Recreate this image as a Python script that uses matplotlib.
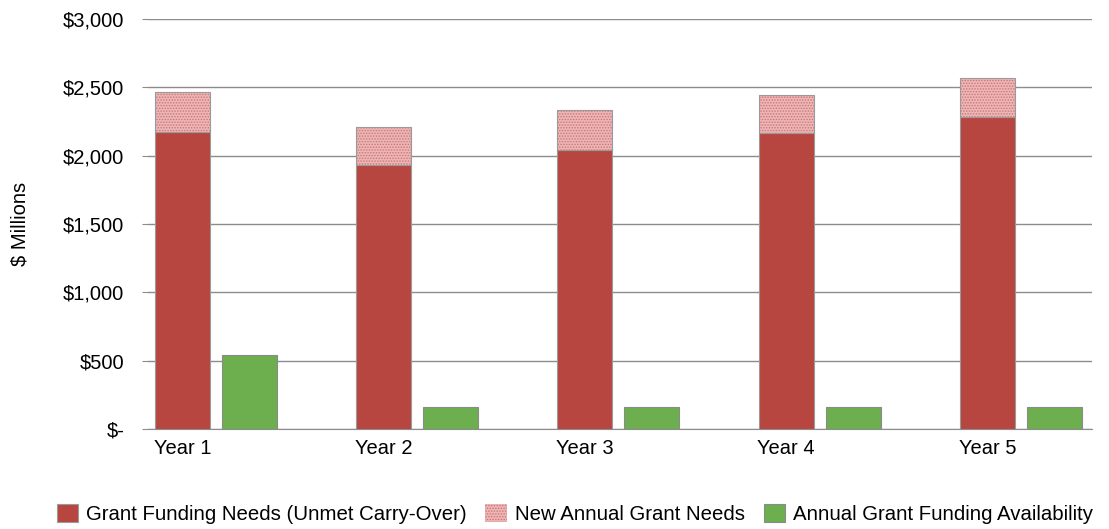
import matplotlib
matplotlib.use("Agg")
import matplotlib.pyplot as plt
import numpy as np
from matplotlib.ticker import FuncFormatter

plt.rcParams["font.family"] = ["Liberation Sans", "DejaVu Sans"]
plt.rcParams["hatch.linewidth"] = 0.7

years = ["Year 1", "Year 2", "Year 3", "Year 4", "Year 5"]
carry_over = [2173, 1932, 2041, 2166, 2283]
new_needs = [293, 278, 293, 278, 285]
availability = [541, 161, 161, 161, 161]

RED = "#B6463F"
PINK = "#ECB6B6"
GREEN = "#6DAE4F"

x = np.arange(len(years))
w = 0.273
off = 0.333

fig = plt.figure(figsize=(11.09, 5.29), dpi=100)
ax = fig.add_axes([0.1335, 0.189, 0.8512, 0.775])

ax.bar(x, carry_over, w, color=RED, edgecolor="#9a9a9a", lw=0.8,
       label="Grant Funding Needs (Unmet Carry-Over)", zorder=3)
ax.bar(x, new_needs, w, bottom=carry_over, color=PINK, edgecolor="#cf7474",
       hatch="......", lw=0, label="New Annual Grant Needs", zorder=3)
# grey outline over the hatched segment
ax.bar(x, new_needs, w, bottom=carry_over, fill=False, edgecolor="#9a9a9a",
       lw=0.8, zorder=4)
ax.bar(x + off, availability, w, color=GREEN, edgecolor="#8a8a8a", lw=0.8,
       label="Annual Grant Funding Availability", zorder=3)

ax.set_ylim(0, 3000)
ax.set_xlim(-0.17, 4.52)
ax.set_yticks(np.arange(0, 3001, 500))
ax.yaxis.set_major_formatter(FuncFormatter(
    lambda v, _: "$-" if v == 0 else f"${v:,.0f}"))
ax.grid(axis="y", color="#8c8c8c", lw=1.0, zorder=0)
ax.set_xticks(x)
ax.set_xticklabels(years)
for s in ["top", "right", "left"]:
    ax.spines[s].set_visible(False)
ax.spines["bottom"].set_color("#8c8c8c")
ax.tick_params(axis="y", length=4, color="#8c8c8c", labelsize=14.5, pad=13)
ax.tick_params(axis="x", length=0, labelsize=14.5, pad=7)
ax.set_ylabel("$ Millions", fontsize=14.5, labelpad=24)

handles, labels = ax.get_legend_handles_labels()
fig.legend(handles, labels, loc="center", bbox_to_anchor=(0.5185, 0.028),
           ncol=3, frameon=False, fontsize=14.7, handlelength=1.06,
           handleheight=1.0, handletextpad=0.4, columnspacing=0.9,
           borderpad=0.2)

fig.savefig("out.png", dpi=100)
